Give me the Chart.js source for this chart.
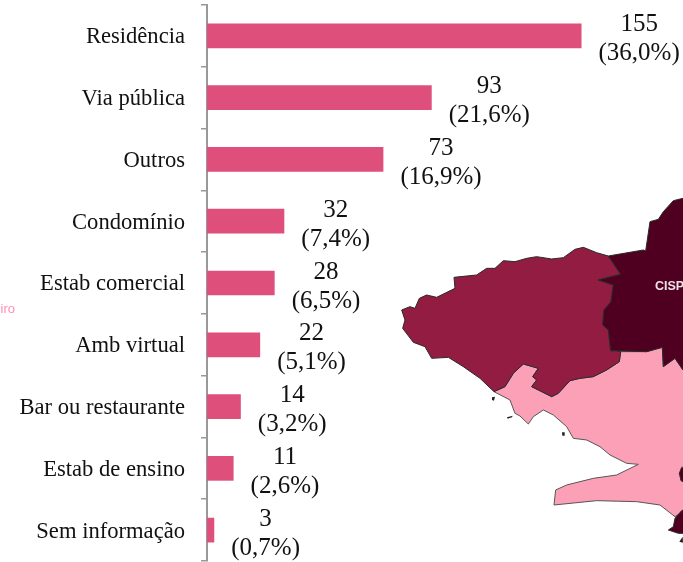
<!DOCTYPE html>
<html><head><meta charset="utf-8">
<style>
html,body{margin:0;padding:0;background:#fff;overflow:hidden;width:683px;height:562px}
#wrap{position:relative;width:683px;height:562px;overflow:hidden}
svg,canvas{position:absolute;left:0;top:0}
.t{position:absolute;font-family:"Liberation Sans",Arial,sans-serif;white-space:nowrap}
</style>
<script src="https://cdn.jsdelivr.net/npm/chart.js@4"></script>
</head><body><div id="wrap">
<svg width="683" height="562" viewBox="0 0 683 562">
<g transform="translate(380,190) scale(0.33333)" stroke="#2a2a2a" stroke-width="3" stroke-linejoin="round">
<path fill="#fca0b8" stroke="#555" d="M342,605 375,590 400,550 430,522 475,535 458,560 470,570 455,590 515,620 535,610 570,572 600,565 640,560 680,540 718,515 722,485 800,485 847,472 850,530 885,505 909,540 930,540 930,950 885,980 840,945 770,935 650,932 522,945 527,900 560,885 640,865 710,855 775,823 740,820 690,795 660,770 620,750 580,745 560,710 520,675 490,660 460,680 445,702 420,678 405,670 390,630Z"/>
<path fill="#931c42" d="M65,360 90,350 105,355 118,325 140,315 170,322 225,295 222,262 290,255 320,235 345,235 370,212 405,215 440,205 470,200 515,207 550,203 585,178 610,172 650,188 685,198 700,220 722,253 655,270 700,285 693,335 672,360 668,405 685,420 692,482 722,485 718,515 680,540 640,560 600,565 570,572 535,610 515,620 455,590 470,570 458,560 475,535 430,522 400,550 375,590 342,605 300,565 250,530 205,502 155,505 135,470 100,457 68,415 75,390Z"/>
<path fill="#4f0020" d="M685,198 790,180 797,183 810,95 835,88 850,65 880,32 909,25 930,20 930,540 909,540 885,505 850,530 847,472 800,485 692,482 685,420 668,405 672,360 693,335 700,285 655,270 722,253 700,220Z"/>
<path fill="#4f0020" d="M930,830 905,832 898,850 903,872 930,885Z"/>
<path fill="#4f0020" d="M930,952 905,962 885,985 880,1010 865,1020 895,1030 930,1030Z"/>
<path fill="#222" stroke="none" d="M336,622 345,620 342,632 336,630ZM381,682 398,677 396,682 383,686ZM546,727 554,727 554,737 547,737ZM898,1055 908,1040 909,1058Z"/>
</g>
</svg>
<canvas id="c" width="683" height="562"></canvas>
<div class="t" style="right:668px;top:301px;font-size:13px;color:#ff8fb3">iro</div>
<div class="t" style="left:655px;top:279px;font-size:12.5px;font-weight:bold;color:#f0e0e6">CISP</div>
</div>
<script>
const categories = ["Residência","Via pública","Outros","Condomínio","Estab comercial","Amb virtual","Bar ou restaurante","Estab de ensino","Sem informação"];
const counts = [155,93,73,32,28,22,14,11,3];
const percents = ["(36,0%)","(21,6%)","(16,9%)","(7,4%)","(6,5%)","(5,1%)","(3,2%)","(2,6%)","(0,7%)"];
const serif = '"Liberation Serif", serif';
const valueLabels = {
  id:"valueLabels",
  afterDatasetsDraw(chart){
    const ctx = chart.ctx;
    ctx.save();
    ctx.font = "25px "+serif;
    ctx.fillStyle = "#111";
    ctx.textAlign = "center";
    ctx.textBaseline = "middle";
    chart.getDatasetMeta(0).data.forEach((bar,i)=>{
      const cx = bar.x + 17 + ctx.measureText(percents[i]).width/2;
      ctx.fillText(String(counts[i]), cx, bar.y-11);
      ctx.fillText(percents[i], cx, bar.y+18);
    });
    ctx.restore();
  }
};
new Chart(document.getElementById("c"),{
  type:"bar",
  data:{labels:categories,datasets:[{data:counts,backgroundColor:"#df4f7b",borderWidth:0,barPercentage:0.4,categoryPercentage:1}]},
  options:{
    indexAxis:"y",responsive:false,animation:false,
    layout:{padding:{top:5,bottom:1,left:0,right:0}},
    plugins:{legend:{display:false},tooltip:{enabled:false}},
    scales:{
      x:{display:false,min:0,max:197},
      y:{
        afterFit(s){s.width=207;s.paddingTop=0;s.paddingBottom=0;},
        grid:{offset:true,drawOnChartArea:false,color:"#999",tickLength:6,lineWidth:1.5},
        border:{color:"#999",width:2},
        ticks:{color:"#111",padding:16,labelOffset:1.5,font:{family:serif,size:22.6},autoSkip:false}
      }
    }
  },
  plugins:[valueLabels]
});
</script>
</body></html>
